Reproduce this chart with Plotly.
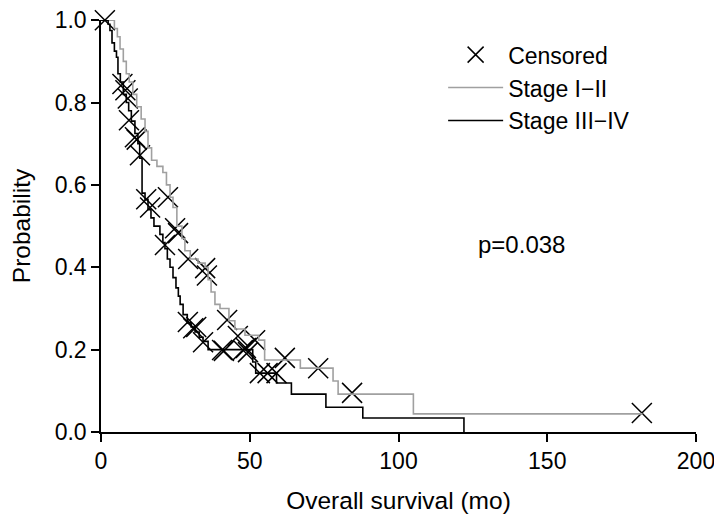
import plotly.graph_objects as go

# Stage I-II (gray) Kaplan-Meier steps: time (months) and survival after step
stage12_t = [0, 4.5, 5.5, 6.4, 7.5, 8.5, 9.5, 10.7, 12, 13.5, 14.8, 15.8, 17, 18.8, 20.8, 22,
             23.2, 24.2, 25.5, 27.2, 28.2, 30, 32.6, 35, 36, 37, 38.3, 40, 43, 45, 48.4, 53,
             55, 67, 78, 79.7, 105, 182]
stage12_p = [1.0, 0.98, 0.96, 0.93, 0.90, 0.87, 0.85, 0.82, 0.79, 0.76, 0.73, 0.69, 0.66, 0.645,
             0.63, 0.60, 0.57, 0.545, 0.50, 0.47, 0.44, 0.42, 0.41, 0.40, 0.37, 0.34, 0.31, 0.30,
             0.27, 0.25, 0.235, 0.223, 0.175, 0.155, 0.124, 0.092, 0.044, 0.044]

# Stage III-IV (black)
stage34_t = [0, 2.4, 3, 3.7, 4.5, 5.2, 5.7, 6.5, 7.5, 8.5, 9.3, 10.2, 11.4, 12.4, 13, 13.8,
             14.8, 15.8, 16.8, 17.8, 19.8, 20.8, 21.5, 22.3, 23.2, 24.2, 25.2, 26, 26.6, 27.6,
             29, 30.3, 31.6, 33, 34.3, 36, 51, 52, 59, 64, 75.6, 88, 122]
stage34_p = [1.0, 0.99, 0.975, 0.945, 0.925, 0.91, 0.87, 0.85, 0.82, 0.80, 0.78, 0.755, 0.725,
             0.70, 0.665, 0.58, 0.565, 0.54, 0.52, 0.50, 0.48, 0.46, 0.445, 0.42, 0.40, 0.375,
             0.35, 0.33, 0.31, 0.285, 0.265, 0.255, 0.243, 0.23, 0.22, 0.20, 0.17, 0.143, 0.119,
             0.092, 0.06, 0.034, 0.0]

# Censored observations
cens_t = [1.3, 7.2, 8.2, 9.0, 9.4, 11.4, 12.0, 13.1, 15.2, 16.5, 21.5, 22.5, 24.9, 25.9, 29.3,
          29.2, 31.0, 32.0, 34.3, 35.0, 35.6, 40.7, 41.3, 42.4, 46.0, 47.7, 48.7, 49.4, 51.8,
          53.4, 56.0, 59.0, 61.8, 73.0, 84.4, 181.8]
cens_p = [1.0, 0.845, 0.83, 0.81, 0.757, 0.716, 0.71, 0.672, 0.565, 0.545, 0.454, 0.57, 0.495,
          0.483, 0.42, 0.267, 0.252, 0.255, 0.218, 0.398, 0.38, 0.199, 0.197, 0.272, 0.233,
          0.199, 0.204, 0.194, 0.223, 0.143, 0.143, 0.143, 0.18, 0.155, 0.095, 0.046]

x_ticks = [0, 50, 100, 150, 200]
y_ticks = [0.0, 0.2, 0.4, 0.6, 0.8, 1.0]

FONT = "Liberation Sans, Arial, sans-serif"

fig = go.Figure()
fig.add_trace(go.Scatter(x=cens_t, y=cens_p, mode="markers", name="Censored",
                         marker=dict(symbol="x-thin", size=20, color="black",
                                     line=dict(width=1.5, color="black")),
                         cliponaxis=False))
fig.add_trace(go.Scatter(x=stage12_t, y=stage12_p, mode="lines", name="Stage I\u2212II",
                         line=dict(shape="hv", color="#a0a0a0", width=1.6), cliponaxis=False))
fig.add_trace(go.Scatter(x=stage34_t, y=stage34_p, mode="lines", name="Stage III\u2212IV",
                         line=dict(shape="hv", color="black", width=1.6), cliponaxis=False))

fig.add_annotation(x=141.5, y=0.455, text="p=0.038", showarrow=False,
                   font=dict(size=24, color="black", family=FONT))

# page body has an 8px default margin, so the figure is 8px smaller than the window
fig.update_layout(
    width=714, height=512,
    margin=dict(l=93, r=26, t=12, b=88, autoexpand=False),
    paper_bgcolor="white", plot_bgcolor="white",
    font=dict(family=FONT, size=23, color="black"),
    showlegend=True,
    legend=dict(x=0.575, y=0.968, xanchor="left", yanchor="top",
                bgcolor="rgba(0,0,0,0)", font=dict(size=23, family=FONT),
                tracegroupgap=0, itemwidth=55),
    xaxis=dict(range=[0, 200], tickvals=x_ticks, showline=True, linecolor="black",
               linewidth=1.5, ticks="outside", ticklen=8, tickwidth=1.5, tickcolor="black",
               showgrid=False, zeroline=False, tickfont=dict(size=23), automargin=False,
               ticklabeloverflow="allow",
               title=dict(text="Overall survival (mo)", standoff=19, font=dict(size=24.5))),
    yaxis=dict(range=[0, 1.0005], tickvals=y_ticks, tickformat=".1f", showline=True,
               linecolor="black", linewidth=1.5, ticks="outside", ticklen=8, tickwidth=1.5,
               tickcolor="black", showgrid=False, zeroline=False, tickfont=dict(size=23),
               automargin=False, ticklabeloverflow="allow",
               title=dict(text="Probability", standoff=24, font=dict(size=24.5))),
)

fig.write_html("out.html")
